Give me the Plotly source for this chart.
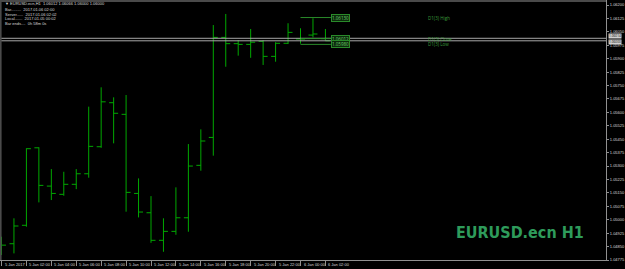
import plotly.graph_objects as go
import pandas as pd

# ---- data (EURUSD.ecn H1) ----
times = pd.date_range("2017-01-05 00:00", periods=27, freq="h")
opens  = [1.04849, 1.04866, 1.04969, 1.05402, 1.05188, 1.05142, 1.05198, 1.05257, 1.05408,
          1.05654, 1.05589, 1.05147, 1.05039, 1.04885, 1.04935, 1.05011, 1.05304, 1.05460,
          1.06019, 1.05984, 1.05980, 1.05997, 1.05913, 1.05986, 1.06010, 1.06032, 1.06012]
highs  = [1.04905, 1.05008, 1.05399, 1.05405, 1.05283, 1.05268, 1.05283, 1.05632, 1.05740,
          1.05684, 1.05697, 1.05231, 1.05132, 1.05008, 1.05181, 1.05423, 1.05505, 1.06088,
          1.06150, 1.06004, 1.06066, 1.06004, 1.05992, 1.06098, 1.06070, 1.06126, 1.06066]
lows   = [1.04803, 1.04812, 1.04961, 1.05097, 1.05110, 1.05134, 1.05171, 1.05235, 1.05402,
          1.05427, 1.05045, 1.05013, 1.04871, 1.04821, 1.04916, 1.04933, 1.05274, 1.05358,
          1.05855, 1.05917, 1.05905, 1.05865, 1.05883, 1.05982, 1.05984, 1.06019, 1.06000]
closes = [1.04858, 1.04965, 1.05397, 1.05192, 1.05147, 1.05198, 1.05257, 1.05410, 1.05659,
          1.05595, 1.05153, 1.05043, 1.04885, 1.04935, 1.05011, 1.05300, 1.05440, 1.06019,
          1.05984, 1.05980, 1.05992, 1.05913, 1.05986, 1.06047, 1.06010, 1.06038, 1.06000]

y_tick_vals = [round(1.04775 + 0.00075 * i, 5) for i in range(20)]
y_tick_text = [f"{v:.5f}" for v in y_tick_vals]

x_tick_labels = ["5 Jan 2017", "5 Jan 02:00", "5 Jan 04:00", "5 Jan 06:00", "5 Jan 08:00",
                 "5 Jan 10:00", "5 Jan 12:00", "5 Jan 14:00", "5 Jan 16:00", "5 Jan 18:00",
                 "5 Jan 20:00", "5 Jan 22:00", "6 Jan 00:00", "6 Jan 02:00"]
x_tick_times = list(times[::2])

d1_names  = ["D1(3) High", "D1(3) Close", "D1(3) Low"]
d1_values = [1.06130, 1.06012, 1.05980]
bid, ask = 1.06000, 1.06014

header_lines = ["EURUSD.ecn,H1  1.06012 1.06066 1.06000 1.06000",
                "Bar.........  2017.01.06 02:00",
                "Server......  2017.01.06 02:02",
                "Local.......  2017.01.05 00:02",
                "Bar ends....  0h 58m 0s"]
title_text = "EURUSD.ecn H1"

# ---- layout geometry ----
W, H = 625, 269
PW, PH = 608, 260
t0 = times[0]
hr = pd.Timedelta(hours=1)
x_start = t0 - 0.12 * hr
x_end = t0 + 48.52 * hr
y_lo, y_hi = 1.04775, 1.06228

GREEN = "#00a800"
DGREEN = "#2a8a2a"
TXT = "#d8d8d8"

fig = go.Figure()
fig.add_trace(go.Ohlc(
    x=times, open=opens, high=highs, low=lows, close=closes,
    increasing=dict(line=dict(color=GREEN, width=1)),
    decreasing=dict(line=dict(color=GREEN, width=1)),
    tickwidth=0.36, hoverinfo="skip", showlegend=False,
))

shapes = []
# bid / ask lines
for v in (ask, bid):
    shapes.append(dict(type="line", xref="paper", yref="y", x0=0, x1=1, y0=v, y1=v,
                       line=dict(color="#a8a8a8", width=1)))
# D1 level lines
d1_x0 = times[24]
d1_x1 = t0 + 26.44 * hr
for v in d1_values:
    shapes.append(dict(type="line", xref="x", yref="y", x0=d1_x0, x1=d1_x1, y0=v, y1=v,
                       line=dict(color=DGREEN, width=1)))
# window frame (top and left)
shapes.append(dict(type="line", xref="paper", yref="paper", x0=0, x1=1, y0=0.996, y1=0.996,
                   line=dict(color="#4a4a4a", width=2)))
shapes.append(dict(type="line", xref="paper", yref="paper", x0=0.001, x1=0.001, y0=0, y1=1,
                   line=dict(color="#4a4a4a", width=2)))

ann = []
# D1 price boxes
for v in d1_values:
    ann.append(dict(x=d1_x1, y=v, xref="x", yref="y", xanchor="left", yanchor="middle",
                    text=f"{v:.5f}", showarrow=False, font=dict(size=4.5, color="#6fcf6f"),
                    bgcolor="#0b2a0b", bordercolor=DGREEN, borderwidth=1, borderpad=0))
# D1 labels
for n, v in zip(d1_names, d1_values):
    ann.append(dict(x=t0 + 34.1 * hr, y=v, xref="x", yref="y", xanchor="left", yanchor="middle",
                    text=n, showarrow=False, font=dict(size=4.5, color="#3a9a3a")))
# axis price boxes (ask above, bid below)
for v, anc in ((ask, "bottom"), (bid, "top")):
    ann.append(dict(x=1.0, y=(ask + bid) / 2, xref="paper", yref="y", xanchor="left",
                    yanchor=anc, xshift=2, yshift=0.8, text=f"{v:.5f}", showarrow=False,
                    font=dict(size=3.2, color="#000000"), bgcolor="#d0d0d0", borderpad=0))
# x labels (left aligned like MT4)
for tt, lab in zip(x_tick_times, x_tick_labels):
    ann.append(dict(x=tt, y=-(264.5 - PH) / PH, xref="x", yref="paper", xanchor="left",
                    yanchor="middle", xshift=1, text=lab, showarrow=False,
                    font=dict(size=4, color=TXT, family="Liberation Sans")))
# header
hy = [4, 9.5, 14.2, 19, 23.7]
for i, (line, yy) in enumerate(zip(header_lines, hy)):
    txt = ("\u25bc " + line) if i == 0 else line
    ann.append(dict(x=3 / PW, y=1 - yy / PH, xref="paper", yref="paper", xanchor="left",
                    yanchor="middle", text=txt, showarrow=False,
                    font=dict(size=4, color=TXT, family="Liberation Sans")))
# big watermark title
ann.append(dict(x=588 / PW, y=1 - 232 / PH, xref="paper", yref="paper", xanchor="right",
                yanchor="middle", text=f"<b>{title_text}</b>", showarrow=False,
                font=dict(size=16, color="#2e9b5b",
                          family="DejaVu Sans Condensed, Liberation Sans Narrow, Arial Narrow, Liberation Sans")))

fig.update_layout(
    width=W, height=H,
    margin=dict(l=0, r=W - PW, t=0, b=H - PH),
    paper_bgcolor="#000000", plot_bgcolor="#000000",
    shapes=shapes, annotations=ann,
    xaxis=dict(type="date", range=[x_start, x_end], showgrid=False, zeroline=False,
               rangeslider=dict(visible=False), tickvals=x_tick_times, showticklabels=False,
               ticks="outside", ticklen=5, tickcolor="#909090",
               showline=True, linecolor="#909090", linewidth=1),
    yaxis=dict(range=[y_lo, y_hi], side="right", showgrid=False, zeroline=False,
               tickvals=y_tick_vals, ticktext=y_tick_text, ticks="outside", ticklen=2,
               tickcolor="#909090", tickfont=dict(size=4, color=TXT, family="Liberation Sans"),
               showline=True, linecolor="#909090", linewidth=1),
    hovermode=False,
)

fig.write_html("out.html")
